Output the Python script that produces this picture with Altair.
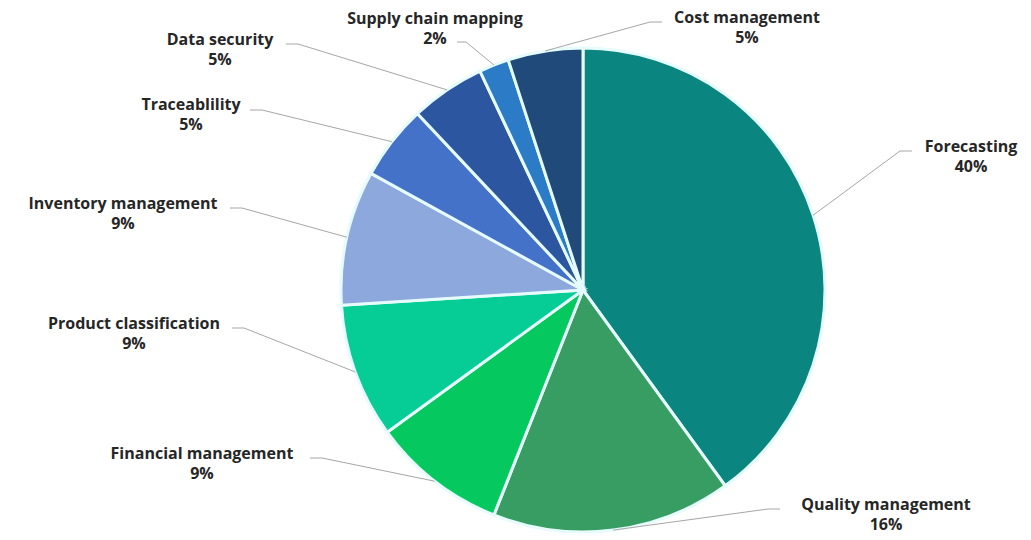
import altair as alt
import pandas as pd

# ---- data ----
categories = ["Forecasting", "Quality management", "Financial management",
              "Product classification", "Inventory management", "Traceablility",
              "Data security", "Supply chain mapping", "Cost management"]
values = [40, 16, 9, 9, 9, 5, 5, 2, 5]

# ---- styles ----
colors = ["#0a8580", "#389d63", "#05c95e", "#06cc96", "#8ca8dc",
          "#4472c8", "#2c56a0", "#2b7bc6", "#1f4a7a"]

# ---- layout (label placement, pixels) ----
CX, CY, R = 583, 290, 242
label_cx = [971, 886, 202, 134, 123, 191, 220, 435, 747]
label_top = [139, 497, 446, 316, 196, 97, 32, 11, 10]
anchor_x = [912, 780, 310, 232, 230, 250, 286, 457, 662]
anchor_y = [151, 509, 458, 328, 208, 110, 44, 42, 22]
elbow_dx = [-12, -12, 12, 12, 12, 12, 12, 9, -12]

df = pd.DataFrame({
    "cat": categories,
    "value": values,
    "idx": list(range(len(categories))),
    "lx": label_cx,
    "ly": label_top,
    "ax": anchor_x,
    "ay": anchor_y,
    "bx": [a + d for a, d in zip(anchor_x, elbow_dx)],
})

base = alt.Chart(df)

pie = base.mark_arc(outerRadius=R, stroke="#e6fbfb", strokeWidth=3).encode(
    theta=alt.Theta("value:Q", stack=True),
    color=alt.Color("cat:N", scale=alt.Scale(domain=categories, range=colors), legend=None),
    order=alt.Order("idx:Q", sort="ascending"),
    x=alt.value(CX),
    y=alt.value(CY),
)

geo = base.transform_joinaggregate(
    total="sum(value)"
).transform_window(
    cum="sum(value)", sort=[alt.SortField("idx", order="ascending")]
).transform_calculate(
    mid="2*PI*(datum.cum - datum.value/2)/datum.total"
).transform_calculate(
    ex=f"{CX} + {R}*sin(datum.mid)",
    ey=f"{CY} - {R}*cos(datum.mid)",
)

lead1 = geo.mark_rule(color="#a6a6a6", strokeWidth=1).encode(
    x=alt.X("ex:Q", scale=None),
    y=alt.Y("ey:Q", scale=None),
    x2="bx:Q",
    y2="ay:Q",
)

lead2 = base.mark_rule(color="#a6a6a6", strokeWidth=1).encode(
    x=alt.X("bx:Q", scale=None),
    y=alt.Y("ay:Q", scale=None),
    x2="ax:Q",
    y2="ay:Q",
)

labels = base.transform_calculate(
    txt="datum.cat + '\\n' + datum.value + '%'"
).mark_text(
    font="Open Sans", fontWeight="bold", fontSize=16, color="#262626",
    align="center", baseline="top", lineBreak="\n", lineHeight=20,
).encode(
    x=alt.X("lx:Q", scale=None),
    y=alt.Y("ly:Q", scale=None),
    text="txt:N",
)

chart = alt.layer(pie, lead1, lead2, labels).properties(
    width=1031, height=540, padding=0, autosize="none", background="white"
).configure_view(stroke=None)

chart.save("out.html", embed_options={"renderer": "svg", "actions": False})
